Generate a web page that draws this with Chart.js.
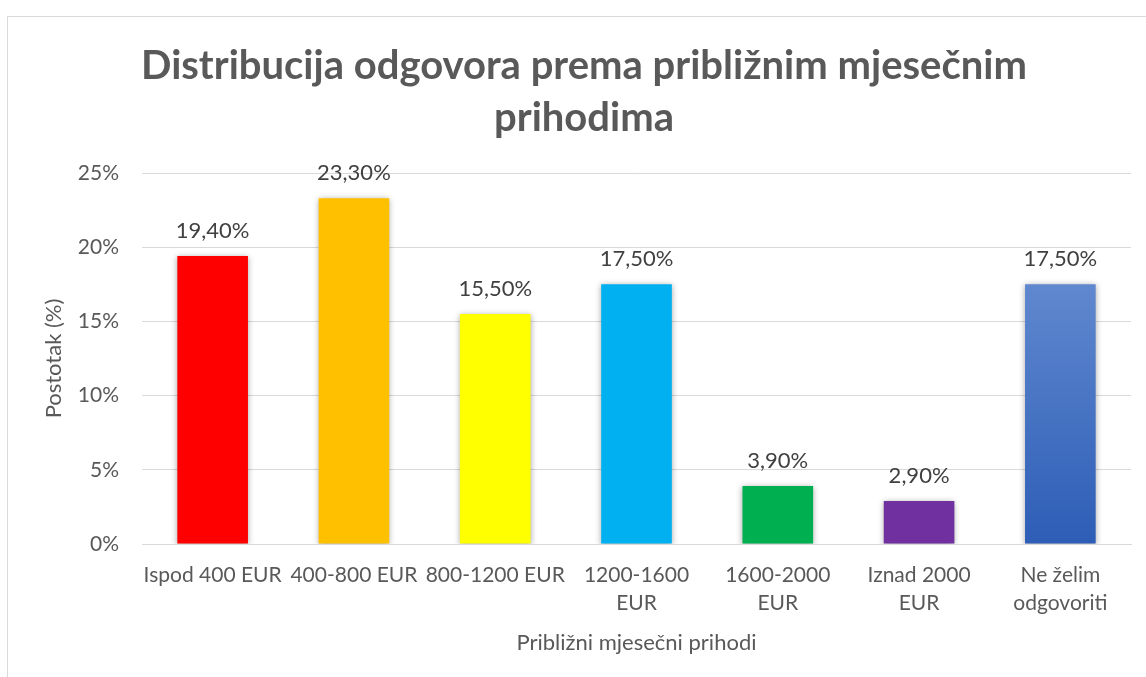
<!DOCTYPE html>
<html>
<head>
<meta charset="utf-8">
<script src="https://cdn.jsdelivr.net/npm/chart.js@4.4.1/dist/chart.umd.min.js"></script>
<style>
  html, body { margin: 0; padding: 0; background: #ffffff; overflow: hidden; width: 1146px; height: 677px; }
  #frame { position: absolute; left: 7px; top: 16px; width: 1300px; height: 800px;
           border-left: 1px solid #d9d9d9; border-top: 1px solid #d9d9d9; }
  #c { position: absolute; left: 8px; top: 17px; }
</style>
</head>
<body>
<div id="frame"></div>
<canvas id="c" width="1152" height="660"></canvas>
<script>
const categories = [
  "Ispod 400 EUR",
  "400-800 EUR",
  "800-1200 EUR",
  ["1200-1600", "EUR"],
  ["1600-2000", "EUR"],
  ["Iznad 2000", "EUR"],
  ["Ne želim", "odgovoriti"]
];
const values = [19.4, 23.3, 15.5, 17.5, 3.9, 2.9, 17.5];
const valueLabels = ["19,40%", "23,30%", "15,50%", "17,50%", "3,90%", "2,90%", "17,50%"];
const yTicks = [0, 5, 10, 15, 20, 25];
const barColors = ["#FF0000", "#FFC000", "#FFFF00", "#00B0F0", "#00B050", "#7030A0", null];
const gradientStops = ["#6088CF", "#2D5DB6"];

const titleLines = ["Distribucija odgovora prema približnim mjesečnim", "prihodima"];
const xTitle = "Približni mjesečni prihodi";
const yTitle = "Postotak (%)";

const FONT = "Lato, 'Noto Sans', sans-serif";

const shadowPlugin = {
  id: 'barShadow',
  beforeDatasetsDraw(chart) {
    const ctx = chart.ctx;
    ctx.save();
    ctx.shadowColor = 'rgba(0,0,0,0.35)';
    ctx.shadowBlur = 6;
    ctx.shadowOffsetX = 0;
    ctx.shadowOffsetY = 1;
  },
  afterDatasetsDraw(chart) {
    chart.ctx.restore();
  }
};

const labelPlugin = {
  id: 'valueLabels',
  afterDatasetsDraw(chart) {
    const ctx = chart.ctx;
    const meta = chart.getDatasetMeta(0);
    ctx.save();
    ctx.font = "22px " + FONT;
    ctx.fillStyle = "#404040";
    ctx.textAlign = "center";
    ctx.textBaseline = "alphabetic";
    meta.data.forEach((bar, i) => {
      ctx.fillText(valueLabels[i], bar.x, bar.y - 18);
    });
    ctx.restore();
  }
};

function barColor(context) {
  const i = context.dataIndex;
  if (barColors[i]) return barColors[i];
  const chart = context.chart;
  if (!chart.chartArea) return gradientStops[1];
  const y = chart.scales.y;
  const top = y.getPixelForValue(values[i]);
  const bottom = y.getPixelForValue(0);
  const g = chart.ctx.createLinearGradient(0, top, 0, bottom);
  g.addColorStop(0, gradientStops[0]);
  g.addColorStop(1, gradientStops[1]);
  return g;
}

new Chart(document.getElementById('c'), {
  type: 'bar',
  data: {
    labels: categories,
    datasets: [{
      data: values,
      backgroundColor: barColor,
      borderWidth: 0,
      barPercentage: 1,
      categoryPercentage: 0.5
    }]
  },
  plugins: [shadowPlugin, labelPlugin],
  options: {
    responsive: false,
    devicePixelRatio: 1,
    animation: false,
    layout: { padding: 0 },
    plugins: {
      legend: { display: false },
      tooltip: { enabled: false },
      title: {
        display: true,
        text: titleLines,
        color: "#595959",
        font: { family: FONT, size: 40, weight: 'bold', lineHeight: 52 / 40 },
        padding: { top: 23, bottom: 29 }
      }
    },
    scales: {
      x: {
        grid: { display: false, drawTicks: false },
        border: { display: true, color: "#d9d9d9", width: 1 },
        ticks: {
          color: "#595959",
          font: { family: FONT, size: 21, lineHeight: 28.4 / 21 },
          padding: 17,
          maxRotation: 0,
          minRotation: 0,
          autoSkip: false
        },
        title: {
          display: true,
          text: xTitle,
          color: "#595959",
          font: { family: FONT, size: 22, lineHeight: 1.2 },
          padding: { top: 0, bottom: 21 }
        },
        afterFit(scale) { scale.height = 133; }
      },
      y: {
        min: 0,
        max: 25,
        afterBuildTicks(scale) { scale.ticks = yTicks.map(v => ({ value: v })); },
        grid: { color: "#d9d9d9", lineWidth: 1, drawTicks: false },
        border: { display: false },
        ticks: {
          color: "#595959",
          font: { family: FONT, size: 21 },
          padding: 23,
          callback: (v) => v + "%"
        },
        title: {
          display: true,
          text: yTitle,
          color: "#595959",
          font: { family: FONT, size: 22, lineHeight: 1.2 },
          padding: { top: 33, bottom: 0 }
        },
        afterFit(scale) { scale.width = 134; }
      },
      yRight: {
        position: 'right',
        display: true,
        grid: { display: false, drawTicks: false },
        border: { display: false },
        ticks: { display: false },
        afterFit(scale) { scale.width = 29; }
      }
    }
  }
});
</script>
</body>
</html>
